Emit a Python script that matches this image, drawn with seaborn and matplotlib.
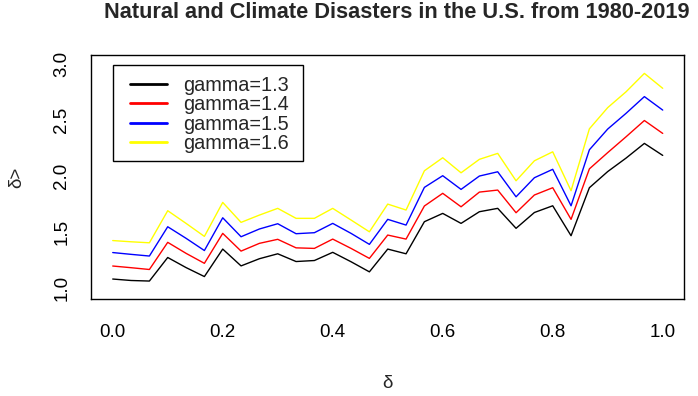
import numpy as np
import pandas as pd
import seaborn as sns
import matplotlib
matplotlib.use("Agg")
import matplotlib.pyplot as plt
from matplotlib.lines import Line2D
from matplotlib.patches import Rectangle

# delta grid (31 equally spaced values on [0, 1])
delta = np.linspace(0, 1, 31)

gamma_13 = [1.083, 1.070, 1.065, 1.275, 1.185, 1.105, 1.350, 1.200, 1.264, 1.308,
            1.239, 1.248, 1.321, 1.237, 1.147, 1.350, 1.308, 1.594, 1.668, 1.579,
            1.683, 1.713, 1.535, 1.676, 1.736, 1.469, 1.897, 2.041, 2.161, 2.292, 2.185]
gamma_14 = [1.199, 1.184, 1.168, 1.410, 1.312, 1.223, 1.490, 1.332, 1.401, 1.437,
            1.361, 1.356, 1.439, 1.356, 1.267, 1.475, 1.439, 1.734, 1.847, 1.727,
            1.858, 1.876, 1.674, 1.832, 1.897, 1.615, 2.065, 2.210, 2.351, 2.496, 2.381]
gamma_15 = [1.319, 1.303, 1.288, 1.549, 1.446, 1.337, 1.629, 1.460, 1.529, 1.576,
            1.487, 1.496, 1.579, 1.490, 1.392, 1.615, 1.564, 1.900, 2.004, 1.882,
            2.001, 2.039, 1.816, 1.986, 2.061, 1.736, 2.235, 2.420, 2.560, 2.709, 2.589]
gamma_16 = [1.426, 1.415, 1.406, 1.692, 1.579, 1.463, 1.766, 1.588, 1.653, 1.713,
            1.624, 1.624, 1.713, 1.609, 1.504, 1.751, 1.698, 2.048, 2.164, 2.030,
            2.150, 2.203, 1.959, 2.137, 2.217, 1.870, 2.422, 2.611, 2.752, 2.916, 2.783]

labels = ["gamma=1.3", "gamma=1.4", "gamma=1.5", "gamma=1.6"]
colors = ["black", "red", "blue", "yellow"]
x_ticks = [0.0, 0.2, 0.4, 0.6, 0.8, 1.0]
y_ticks = [1.0, 1.5, 2.0, 2.5, 3.0]

df = pd.concat([
    pd.DataFrame({"delta": delta, "value": vals, "series": lab})
    for vals, lab in zip([gamma_13, gamma_14, gamma_15, gamma_16], labels)
])

sns.set_style("white")
plt.rcParams["font.family"] = ["Liberation Sans", "DejaVu Sans"]

W, H = 698, 396
fig = plt.figure(figsize=(W / 100, H / 100), dpi=100)
ax = fig.add_axes([91 / W, 1 - 299 / H, 593 / W, 244 / H])

sns.lineplot(data=df, x="delta", y="value", hue="series", hue_order=labels,
             palette=colors, linewidth=1.0, legend=False, ax=ax)

ax.set_xlim(-0.0395, 1.0387)
ax.set_ylim(0.905, 3.080)
ax.set_xticks(x_ticks)
ax.set_xticklabels([f"{t:.1f}" for t in x_ticks])
ax.set_yticks(y_ticks)
ax.set_yticklabels([f"{t:.1f}" for t in y_ticks], rotation=90, va="center")
ax.tick_params(direction="out", length=7, width=1, colors="black",
               labelsize=13.5, pad=8)
ax.tick_params(axis="x", pad=11)
for s in ax.spines.values():
    s.set_visible(True)
    s.set_color("black")
    s.set_linewidth(1.0)
ax.set_xlabel("")
ax.set_ylabel("")

# legend box drawn as a plain rectangle, entries placed inside it
box = Rectangle((113 / W, 1 - 161 / H), 190 / W, 96 / H, transform=fig.transFigure,
                facecolor="white", edgecolor="black", linewidth=1.0, zorder=4)
ax.add_artist(box)
handles = [Line2D([0], [0], color=c, lw=2) for c in colors]
leg = ax.legend(handles, labels, loc="upper left",
                bbox_to_anchor=(113 / W, 1 - 59 / H), bbox_transform=fig.transFigure,
                borderaxespad=0, fontsize=14.3, frameon=False,
                handlelength=1.86, handletextpad=0.79,
                labelspacing=0.02, borderpad=0.856)
leg.set_zorder(5)

fig.text(387 / W, 1 - 383 / H, "δ", ha="center", va="center", fontsize=13.5)
fig.text(17 / W, 1 - 177 / H, "δ>", ha="center", va="center",
         rotation=90, fontsize=13.5)
fig.text(397 / W, 1 - 13 / H,
         "Natural and Climate Disasters in the U.S. from 1980-2019",
         ha="center", va="center", fontsize=15.7, fontweight="bold")

fig.savefig("out.png", dpi=100)
